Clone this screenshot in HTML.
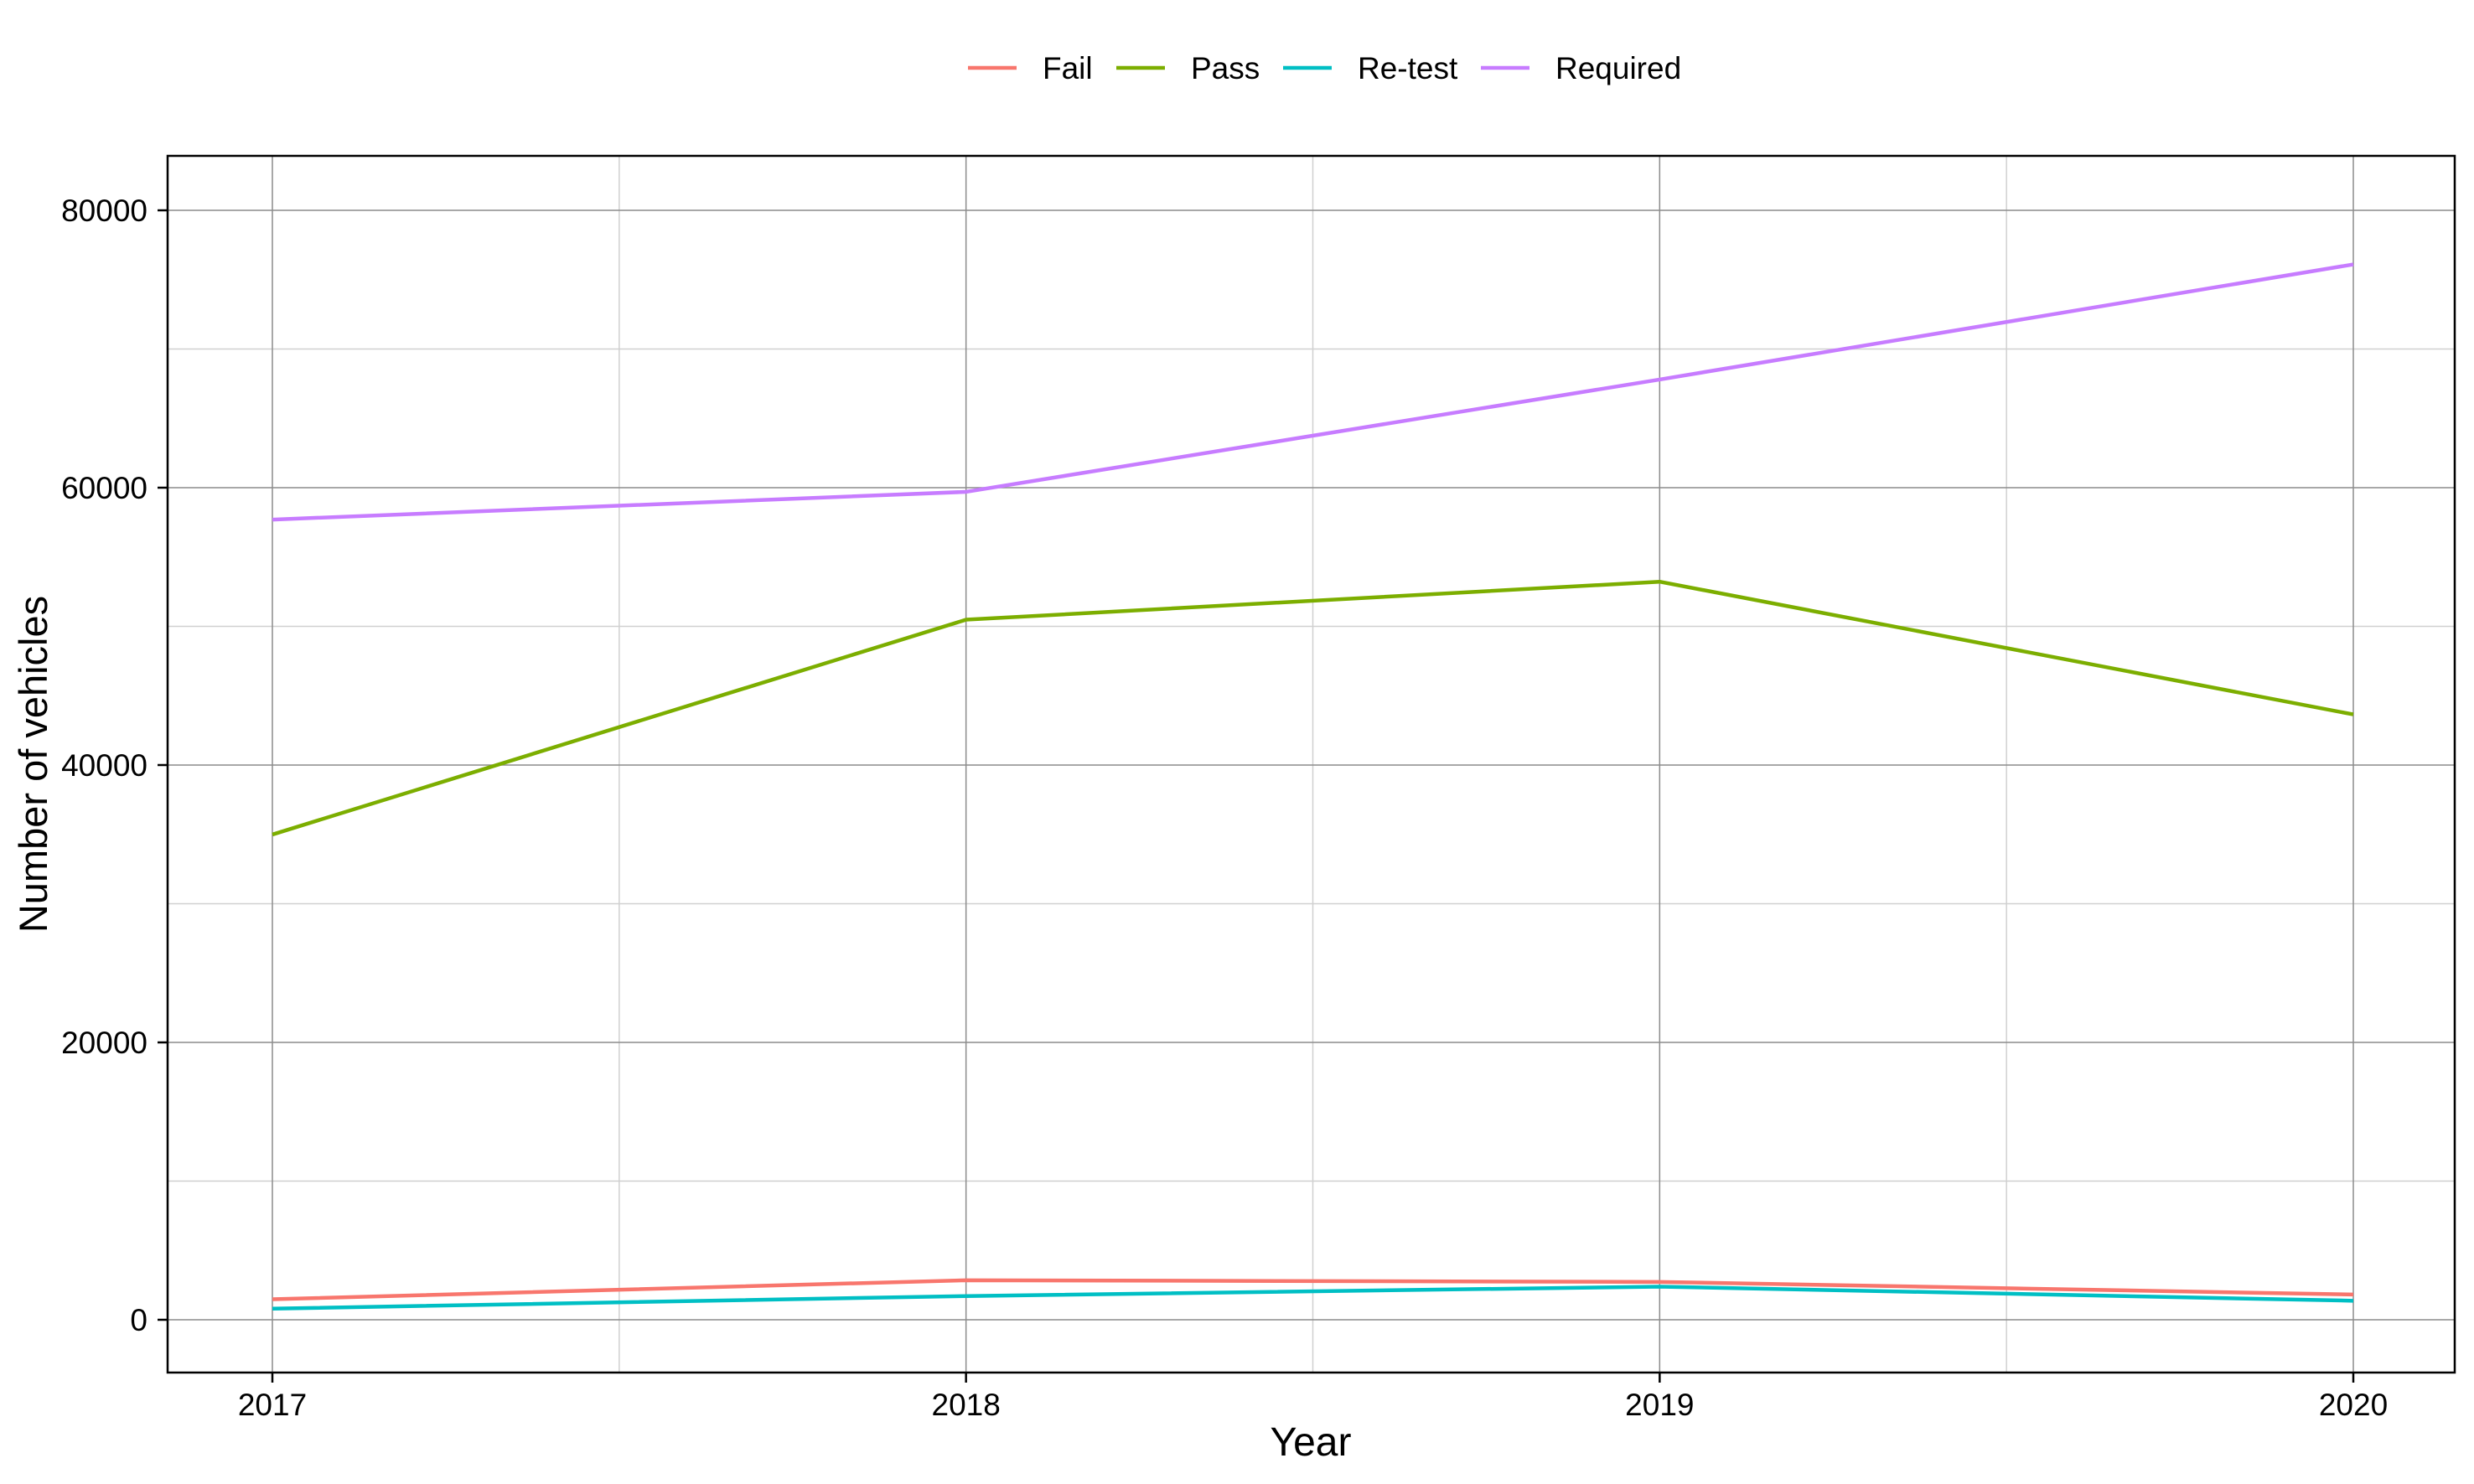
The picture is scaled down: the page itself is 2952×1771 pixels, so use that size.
<!DOCTYPE html>
<html><head><meta charset="utf-8"><style>
html,body{margin:0;padding:0;background:#fff;}
svg{display:block;font-family:"Liberation Sans",Arial,sans-serif;}
</style></head><body>
<svg id="chart" width="2952" height="1771" viewBox="0 0 2952 1771">
<g id="grid"></g>
<g id="series"></g>
<rect x="200" y="186" width="2729" height="1452" fill="none" stroke="#000" stroke-width="2.5"/>
<g id="axes"></g>
<text x="1564" y="1737" font-size="48" text-anchor="middle">Year</text>
<text transform="translate(56,912) rotate(-90)" font-size="47" text-anchor="middle">Number of vehicles</text>
<g id="legend"></g>
</svg>
<script>
const years = [2017, 2018, 2019, 2020];
const seriesNames = ["Fail", "Pass", "Re-test", "Required"];
const failVals = [1480, 2850, 2730, 1820];
const passVals = [34990, 50480, 53220, 43650];
const retestVals = [800, 1710, 2390, 1370];
const requiredVals = [57700, 59700, 67800, 76100];
const yTicks = [0, 20000, 40000, 60000, 80000];
const yMinor = [10000, 30000, 50000, 70000];
const xMinor = [2017.5, 2018.5, 2019.5];
const colors = ["#F8766D", "#7CAE00", "#00BFC4", "#C77CFF"];
const allVals = [failVals, passVals, retestVals, requiredVals];

const NS = "http://www.w3.org/2000/svg";
const X0 = 325, X1 = 2808, Y0 = 1575, Y80 = 251;
function xs(v){ return X0 + (v - years[0]) / (years[years.length-1] - years[0]) * (X1 - X0); }
function ys(v){ return Y0 - v / 80000 * (Y0 - Y80); }
function mk(tag, attrs, parent){
  const e = document.createElementNS(NS, tag);
  for (const k in attrs) e.setAttribute(k, attrs[k]);
  parent.appendChild(e); return e;
}
const grid = document.getElementById("grid");
const axes = document.getElementById("axes");
yMinor.forEach(v => {
  const l = mk("line", {x1:200, x2:2929, y1:ys(v), y2:ys(v), stroke:"#d0d0d0", "stroke-width":1.5}, grid);
  
  
});
xMinor.forEach(v => {
  const l = mk("line", {x1:xs(v), x2:xs(v), y1:186, y2:1638, stroke:"#d0d0d0", "stroke-width":1.5}, grid);
  
  
});
yTicks.forEach(v => {
  const l = mk("line", {x1:200, x2:2929, y1:ys(v), y2:ys(v), stroke:"#8c8c8c", "stroke-width":1.5}, grid);
  
  
  const t = mk("line", {x1:188, x2:200, y1:ys(v), y2:ys(v), stroke:"#000", "stroke-width":2.5}, axes);
  
  
  const tx = mk("text", {x:176, y:ys(v)+13, "font-size":37, "text-anchor":"end"}, axes);
  tx.textContent = v;
  
  
});
years.forEach(v => {
  const l = mk("line", {x1:xs(v), x2:xs(v), y1:186, y2:1638, stroke:"#8c8c8c", "stroke-width":1.5}, grid);
  
  
  const t = mk("line", {x1:xs(v), x2:xs(v), y1:1638, y2:1650, stroke:"#000", "stroke-width":2.5}, axes);
  
  
  const tx = mk("text", {x:xs(v), y:1689, "font-size":37, "text-anchor":"middle"}, axes);
  tx.textContent = v;
  
  
});
const sg = document.getElementById("series");
allVals.forEach((vals, i) => {
  const pts = vals.map((v, j) => xs(years[j]) + "," + ys(v)).join(" ");
  const p = mk("polyline", {points:pts, fill:"none", stroke:colors[i], "stroke-width":4.5, "stroke-linejoin":"round"}, sg);
  
  
});
const lg = document.getElementById("legend");
const lx = [1155, 1332, 1531, 1767];
seriesNames.forEach((n, i) => {
  const g = mk("g", {}, lg);
  
  
  mk("line", {x1:lx[i], x2:lx[i]+58, y1:81, y2:81, stroke:colors[i], "stroke-width":4.5}, g);
  const t = mk("text", {x:lx[i]+89, y:94, "font-size":37}, g);
  t.textContent = n;
});
</script>
</body></html>
